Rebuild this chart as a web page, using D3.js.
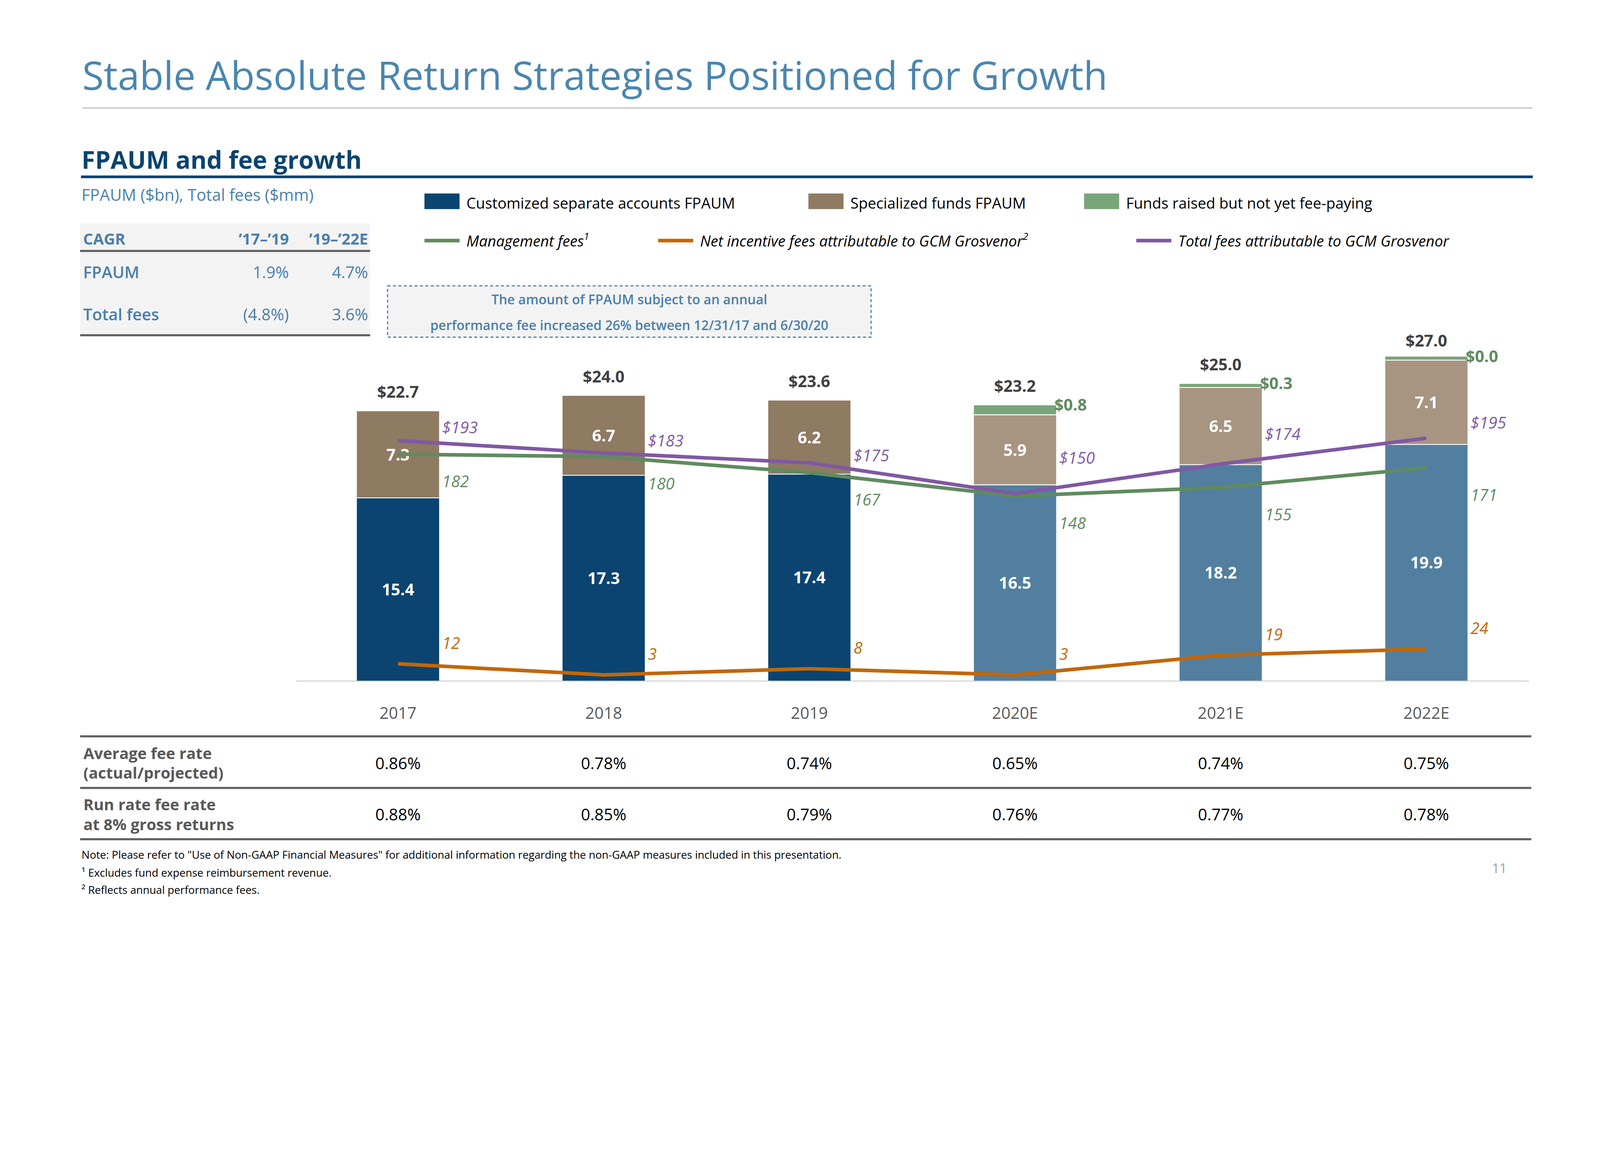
<!DOCTYPE html>
<html><head><meta charset="utf-8">
<script src="https://cdn.jsdelivr.net/npm/d3@7"></script>
<style>html,body{margin:0;padding:0;background:#fff;overflow:hidden}svg{display:block;font-family:"Open Sans",sans-serif}</style>
</head><body><svg id="c" viewBox="0 0 5334 3000" preserveAspectRatio="xMinYMin meet" style="width:100vw;height:100vh"></svg>
<script>
const years = ["2017","2018","2019","2020E","2021E","2022E"];
const estimated = [false,false,false,true,true,true];
const customized = [15.4,17.3,17.4,16.5,18.2,19.9];
const specialized = [7.3,6.7,6.2,5.9,6.5,7.1];
const raised = [null,null,null,0.8,0.3,0.0];
const totals = [22.7,24.0,23.6,23.2,25.0,27.0];
const mgmtFees = [182,180,167,148,155,171];
const incentiveFees = [12,3,8,3,19,24];
const totalFees = [193,183,175,150,174,195];
const avgFeeRate = ["0.86%","0.78%","0.74%","0.65%","0.74%","0.75%"];
const runRateFee = ["0.88%","0.85%","0.79%","0.76%","0.77%","0.78%"];
const cagrHeader = ["CAGR","’17–’19","’19–’22E"];
const cagrRows = [["FPAUM","1.9%","4.7%"],["Total fees","(4.8%)","3.6%"]];
const totalFeeLabelDy = [-45,-42,-25,-120,-100,-52];

const svg = d3.select("#c");
const F = '"Open Sans",sans-serif';
const navy="#0b4470", navyL="#527f9f", brown="#8f7a62", brownL="#a79582", gRaise="#7aa57a";
const cGreen="#5f8b5f", cOrange="#c26708", cPurple="#8058a3";
const blueT="#4a7fab";

svg.append("text").attr("x",274).attr("y",300).attr("font-size",131).attr("fill","#4a86b0").text("Stable Absolute Return Strategies Positioned for Growth");
svg.append("line").attr("x1",274).attr("x2",5108).attr("y1",360).attr("y2",360).attr("stroke","#c0c0c0").attr("stroke-width",4);
svg.append("text").attr("x",272).attr("y",562).attr("font-size",82).attr("font-weight",700).attr("fill",navy).text("FPAUM and fee growth");
svg.append("rect").attr("x",270).attr("y",585).attr("width",4840).attr("height",9).attr("fill",navy);
svg.append("text").attr("x",272).attr("y",670).attr("font-size",54).attr("fill",blueT).text("FPAUM ($bn), Total fees ($mm)");

svg.append("rect").attr("x",267).attr("y",745).attr("width",967).attr("height",373).attr("fill","#f3f3f3");
const colX=[277,963,1227];
cagrHeader.forEach((t,i)=>svg.append("text").attr("x",colX[i]).attr("y",815).attr("text-anchor",i?"end":"start").attr("font-size",52).attr("font-weight",700).attr("fill",blueT).text(t));
svg.append("rect").attr("x",267).attr("y",833).attr("width",967).attr("height",7).attr("fill","#606060");
cagrRows.forEach((r,j)=>r.forEach((t,i)=>svg.append("text").attr("x",colX[i]).attr("y",927+j*141).attr("text-anchor",i?"end":"start").attr("font-size",54).attr("font-weight",i?400:600).attr("fill",blueT).text(t)));
svg.append("rect").attr("x",267).attr("y",1114).attr("width",967).attr("height",7).attr("fill","#606060");

svg.append("rect").attr("x",1292).attr("y",953).attr("width",1612).attr("height",171).attr("fill","#f3f3f3").attr("stroke","#4a86b8").attr("stroke-width",4).attr("stroke-dasharray","10,8");
svg.append("text").attr("x",2098).attr("y",1015).attr("text-anchor","middle").attr("font-size",44).attr("font-weight",600).attr("fill",blueT).text("The amount of FPAUM subject to an annual");
svg.append("text").attr("x",2098).attr("y",1100).attr("text-anchor","middle").attr("font-size",44).attr("font-weight",600).attr("fill",blueT).text("performance fee increased 26% between 12/31/17 and 6/30/20");

const lg=[{x:1415,y:675,t:"Customized separate accounts FPAUM",c:navy,box:1},{x:2695,y:675,t:"Specialized funds FPAUM",c:brown,box:1},{x:3614,y:675,t:"Funds raised but not yet fee-paying",c:gRaise,box:1},
{x:1415,y:802,t:"Management fees",sup:"1",c:cGreen},{x:2194,y:802,t:"Net incentive fees attributable to GCM Grosvenor",sup:"2",c:cOrange},{x:3788,y:802,t:"Total fees attributable to GCM Grosvenor",c:cPurple}];
lg.forEach(d=>{
  if(d.box) svg.append("rect").attr("x",d.x).attr("y",d.y-30).attr("width",117).attr("height",52).attr("fill",d.c);
  else svg.append("rect").attr("x",d.x).attr("y",d.y-6).attr("width",117).attr("height",12).attr("fill",d.c);
  const t=svg.append("text").attr("x",d.x+140).attr("y",d.y+20).attr("font-size",50).attr("fill","#000").attr("font-style",d.box?"normal":"italic").text(d.t);
  if(d.sup) t.append("tspan").attr("font-size",32).attr("dy",-22).text(d.sup);
});

const x=d3.scaleBand().domain(years).range([984,5098]).paddingInner(0.6).paddingOuter(0.3);
const y=d3.scaleLinear().domain([0,27]).range([2269,2269-27*39.57]);
const yf=d3.scaleLinear().domain([0,200]).range([2262,2262-200*4.11]);
svg.append("line").attr("x1",987).attr("x2",5097).attr("y1",2270).attr("y2",2270).attr("stroke","#d9d9d9").attr("stroke-width",4);
const xa=svg.append("g").attr("transform","translate(0,2270)").call(d3.axisBottom(x).tickSize(0).tickPadding(88));
xa.select(".domain").remove();
xa.selectAll("text").attr("font-size",54).attr("fill","#595959").attr("font-family",F);

years.forEach((yr,i)=>{
  const bx=x(yr), bw=x.bandwidth(), cx=bx+bw/2;
  const c1=estimated[i]?navyL:navy, c2=estimated[i]?brownL:brown;
  svg.append("rect").attr("x",bx).attr("y",y(customized[i])).attr("width",bw).attr("height",y(0)-y(customized[i])).attr("fill",c1);
  const s1=customized[i]+specialized[i];
  svg.append("rect").attr("x",bx).attr("y",y(s1)).attr("width",bw).attr("height",y(customized[i])-y(s1)).attr("fill",c2);
  svg.append("line").attr("x1",bx).attr("x2",bx+bw).attr("y1",y(customized[i])).attr("y2",y(customized[i])).attr("stroke","#fff").attr("stroke-width",3);
  if(raised[i]!==null){
    const h=Math.max(y(s1)-y(s1+raised[i]),12);
    svg.append("rect").attr("x",bx).attr("y",y(s1)-h).attr("width",bw).attr("height",h).attr("fill",gRaise);
    svg.append("line").attr("x1",bx).attr("x2",bx+bw).attr("y1",y(s1)).attr("y2",y(s1)).attr("stroke","#fff").attr("stroke-width",3);
    svg.append("text").attr("x",bx+bw-6).attr("y",y(s1)-h+18).attr("font-size",54).attr("font-weight",700).attr("fill",cGreen).text("$"+raised[i].toFixed(1));
  }
  svg.append("text").attr("x",cx).attr("y",y(totals[i])-45).attr("text-anchor","middle").attr("font-size",54).attr("font-weight",700).attr("fill","#404040").text("$"+totals[i].toFixed(1));
  svg.append("text").attr("x",cx).attr("y",(y(0)+y(customized[i]))/2+20).attr("text-anchor","middle").attr("font-size",54).attr("font-weight",700).attr("fill","#fff").text(customized[i].toFixed(1));
  svg.append("text").attr("x",cx).attr("y",(y(customized[i])+y(s1))/2+20).attr("text-anchor","middle").attr("font-size",54).attr("font-weight",700).attr("fill","#fff").text(specialized[i].toFixed(1));
});

const line=(arr)=>d3.line().x((d,i)=>x(years[i])+x.bandwidth()/2).y(d=>yf(d))(arr);
[[mgmtFees,cGreen],[incentiveFees,cOrange],[totalFees,cPurple]].forEach(([a,c])=>svg.append("path").attr("d",line(a)).attr("fill","none").attr("stroke",c).attr("stroke-width",12));
const lx=i=>x(years[i])+x.bandwidth()+10;
years.forEach((yr,i)=>{
  svg.append("text").attr("x",lx(i)).attr("y",yf(mgmtFees[i])+110).attr("font-size",54).attr("font-style","italic").attr("fill",cGreen).text(mgmtFees[i]);
  svg.append("text").attr("x",lx(i)).attr("y",yf(totalFees[i])+totalFeeLabelDy[i]+20).attr("font-size",54).attr("font-style","italic").attr("fill",cPurple).text("$"+totalFees[i]);
  svg.append("text").attr("x",lx(i)).attr("y",yf(incentiveFees[i])-50).attr("font-size",54).attr("font-style","italic").attr("fill",cOrange).text(incentiveFees[i]);
});

[2454,2626,2797].forEach(v=>svg.append("rect").attr("x",267).attr("y",v-3).attr("width",4838).attr("height",7).attr("fill","#606060"));
const rows=[[["Average fee rate","(actual/projected)"],avgFeeRate,2544],[["Run rate fee rate","at 8% gross returns"],runRateFee,2715]];
rows.forEach(([lab,vals,yy])=>{
  lab.forEach((t,k)=>svg.append("text").attr("x",278).attr("y",yy-14+k*66).attr("font-size",52).attr("font-weight",700).attr("fill","#595959").text(t));
  vals.forEach((v,i)=>svg.append("text").attr("x",x(years[i])+x.bandwidth()/2).attr("y",yy+20).attr("text-anchor","middle").attr("font-size",54).attr("fill","#000").text(v));
});
const notes=[['Note: Please refer to "Use of Non-GAAP Financial Measures" for additional information regarding the non-GAAP measures included in this presentation.',2862],["¹ Excludes fund expense reimbursement revenue.",2922],["² Reflects annual performance fees.",2980]];
notes.forEach(([t,yy])=>svg.append("text").attr("x",272).attr("y",yy).attr("font-size",36).attr("fill","#000").text(t));
svg.append("text").attr("x",5024).attr("y",2910).attr("text-anchor","end").attr("font-size",44).attr("fill","#a0a0a0").text("11");
</script></body></html>
